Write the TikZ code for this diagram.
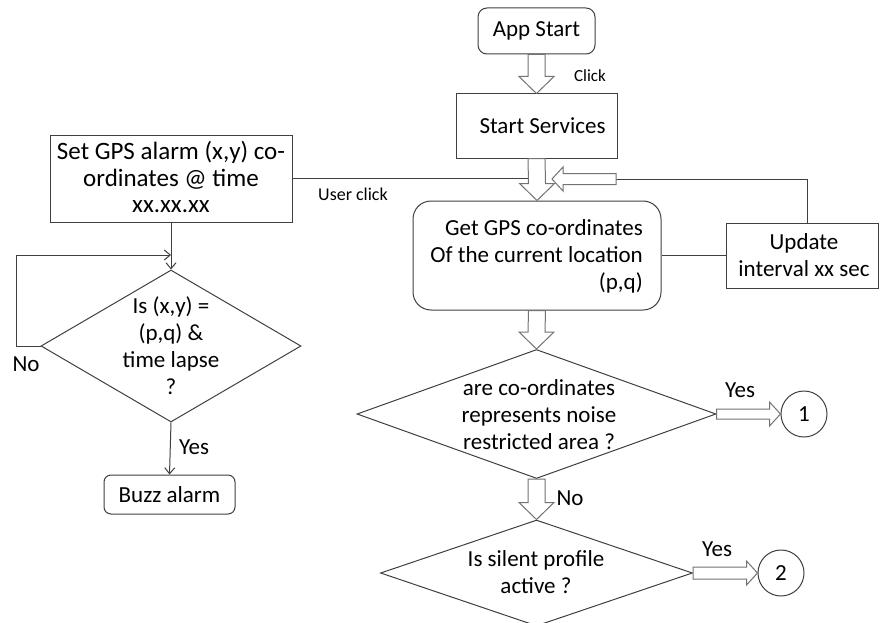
\documentclass[tikz,border=0pt]{standalone}
\usepackage{fontspec}
\setmainfont{Carlito}
\usetikzlibrary{calc,shapes.geometric,arrows.meta}
\newcommand\blkdown[2]{\draw[blk] ($(#1)+(-8.5,0)$) -- ($(#2)+(-8.5,-17)$) -- ($(#2)+(-17.5,-17)$) -- (#2) -- ($(#2)+(17.5,-17)$) -- ($(#2)+(8.5,-17)$) -- ($(#1)+(8.5,0)$) -- cycle;}
\newcommand\blkright[3]{\draw[blk] ($(#1)+(0,-#3)$) -- ($(#2)+(-11,-#3)$) -- ($(#2)+(-11,-12)$) -- (#2) -- ($(#2)+(-11,12)$) -- ($(#2)+(-11,#3)$) -- ($(#1)+(0,#3)$) -- cycle;}
\begin{document}
\begin{tikzpicture}[x=1pt,y=-1pt,
  every node/.style={font=\fontsize{23}{27}\selectfont, text=black},
  boxst/.style={draw=black!75, line width=1, rectangle, inner sep=0},
  rboxst/.style={boxst, rounded corners=9},
  decst/.style={draw=black!75, line width=1, diamond, inner sep=0},
  txt/.style={inner sep=0, align=center},
  circst/.style={draw=black!75, line width=1, circle, minimum size=46, inner sep=0},
  blk/.style={draw=black!55, fill=white, line width=1, line join=miter},
  ln/.style={draw=black!75, line width=1},
  arr/.style={ln, -{Straight Barb[length=6,width=10]}},
  small/.style={inner sep=0, font=\fontsize{17}{20}\selectfont}
]
\useasboundingbox[fill=white] (0,0) rectangle (880,623);

% main column
\node[rboxst, minimum width=117, minimum height=46] (app) at (536.5,31) {App Start};
\node[boxst, minimum width=161, minimum height=64] (ss) at (536.5,126) {\hspace*{12pt}Start Services};
\node[boxst, rounded corners=18, minimum width=248, minimum height=109] (gps) at (537,255.5) {};
\node[inner sep=0, align=right, anchor=east] (gpst) at (643,256) {Get GPS co-ordinates\\Of the current location\\(p,q)};
\node[boxst, minimum width=152, minimum height=65] (upd) at (802,255.5) {};
\node[txt] (updt) at (804,255.5) {Update\\interval xx sec};

\node[decst, minimum width=359, minimum height=129] (d1) at (536.5,414) {};
\node[txt] (d1t) at (539,415) {are co-ordinates\\represents noise\\restricted area ?};
\node[circst] (c1) at (804,414) {1};

\node[decst, minimum width=312, minimum height=106] (d2) at (536.5,573) {};
\node[txt] (d2t) at (536,572.5) {Is silent profile\\active ?};
\node[circst] (c2) at (781,573) {2};

% left column
\node[boxst, minimum width=242, minimum height=87] (set) at (171,178.5) {};
\node[txt, font=\fontsize{25}{26.5}\selectfont] (sett) at (171,177) {Set GPS alarm (x,y) co-\\ordinates @ time\\xx.xx.xx};
\node[decst, minimum width=260, minimum height=152] (ld) at (171,346) {};
\node[txt] (ldt) at (171,346) {Is (x,y) =\\(p,q) \&\\time lapse\\?};
\node[rboxst, rounded corners=7, minimum width=131, minimum height=39] (buzz) at (169.5,494.5) {Buzz alarm};

% block arrows
\blkdown{app.south}{ss.north}
\blkdown{ss.south}{gps.north}
\blkdown{gps.south}{d1.north}
\blkdown{d1.south}{d2.north}
\blkright{d1.east}{c1.west}{5}
\blkright{d2.east}{c2.west}{6}

% feedback from update interval
\coordinate (fbt) at (616,179);
\coordinate (fb) at (552,179);
\draw[ln] ($(upd.north)+(5,0)$) |- (fbt);
\draw[blk] ($(fbt)+(0,-5.5)$) -- ($(fb)+(11,-5.5)$) -- ($(fb)+(11,-12)$) -- (fb) -- ($(fb)+(11,12)$) -- ($(fb)+(11,5.5)$) -- ($(fbt)+(0,5.5)$) -- cycle;
\draw[ln] (gps.east) -- (upd.west);

% user click
\coordinate (uc) at (527.5,178.5);
\draw[ln] (set.east) -- (uc);

% left flow
\coordinate (loopc) at (171,255);
\draw[arr] (set.south) -- (ld.north);
\draw[arr] (ld.west) -- ++(-24,0) |- (loopc);
\draw[arr] (ld.south) -- (buzz.north);

% labels
\node[small] (clk) at (590,76) {Click};
\node[small, font=\fontsize{18}{21}\selectfont] (ucl) at (353,194) {User click};
\node[inner sep=0] (lno) at (26,364) {No};
\node[inner sep=0] (lyes) at (194,447) {Yes};
\node[inner sep=0] (y1) at (740,390) {Yes};
\node[inner sep=0] (y2) at (717,549) {Yes};
\node[inner sep=0] (n1) at (570,498) {No};
\end{tikzpicture}
\end{document}
